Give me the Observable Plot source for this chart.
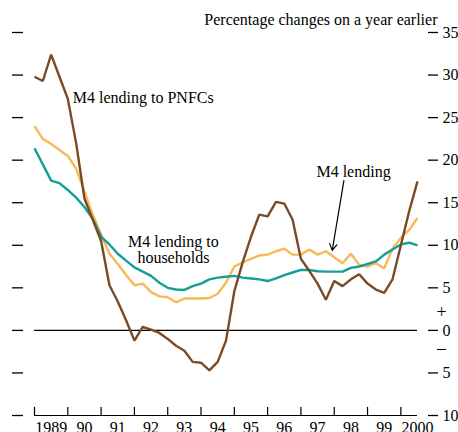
<!DOCTYPE html>
<html><head><meta charset="utf-8">
<script src="https://cdn.jsdelivr.net/npm/d3@7"></script>
<script src="https://cdn.jsdelivr.net/npm/@observablehq/plot@0.6"></script>
<style>html,body{margin:0;padding:0;background:#fff;}#chart{width:458px;height:432px;}</style>
</head><body><div id="chart"></div>
<script>
// Quarterly observations, 1989 Q1 onwards (percentage changes on a year earlier)
const startYear = 1989;
const pnfc = [29.8, 29.3, 32.4, 29.8, 27.2, 22.0, 15.5, 13.0, 10.5, 5.3, 3.4, 1.2, -1.2, 0.4, 0.1, -0.3, -1.0, -1.8, -2.4, -3.7, -3.8, -4.7, -3.7, -1.2, 4.6, 8.0, 11.0, 13.6, 13.4, 15.1, 14.9, 13.0, 8.4, 7.0, 5.5, 3.6, 5.8, 5.2, 6.0, 6.6, 5.5, 4.8, 4.4, 6.0, 10.0, 14.0, 17.5];
const total = [24.0, 22.5, 21.9, 21.2, 20.5, 19.0, 16.3, 13.6, 11.3, 9.0, 7.8, 6.5, 5.3, 5.5, 4.5, 4.0, 3.9, 3.3, 3.75, 3.75, 3.75, 3.8, 4.3, 5.6, 7.5, 8.0, 8.4, 8.8, 8.9, 9.3, 9.6, 8.9, 8.9, 9.5, 8.9, 9.3, 8.6, 7.9, 9.0, 7.7, 7.5, 7.9, 7.3, 9.6, 10.9, 11.8, 13.2];
const households = [21.4, 19.5, 17.6, 17.3, 16.5, 15.6, 14.5, 13.1, 11.0, 10.1, 9.0, 8.2, 7.4, 6.9, 6.4, 5.6, 5.0, 4.8, 4.75, 5.2, 5.5, 6.0, 6.2, 6.3, 6.4, 6.2, 6.1, 6.0, 5.8, 6.1, 6.5, 6.8, 7.1, 7.1, 6.95, 6.9, 6.9, 6.9, 7.35, 7.5, 7.8, 8.1, 8.9, 9.5, 10.1, 10.3, 10.0];

const yTicks = [-10, -5, 0, 5, 10, 15, 20, 25, 30, 35];
const yTickLabels = ["10", "5", "0", "5", "10", "15", "20", "25", "30", "35"];
const yearTicks = [1989, 1990, 1991, 1992, 1993, 1994, 1995, 1996, 1997, 1998, 1999, 2000];
const yearLabels = ["1989", "90", "91", "92", "93", "94", "95", "96", "97", "98", "99", "2000"];

const seriesNames = ["M4 lending", "M4 lending to households", "M4 lending to PNFCs"];
const seriesColors = ["#f8b956", "#11a096", "#7a4a26"];
const seriesValues = [total, households, pnfc];

const rows = seriesNames.flatMap((name, s) =>
  seriesValues[s].map((v, i) => ({series: name, date: startYear + i / 4, value: v})));

const startLabels = [{x: 1990.15, y: 27.3, text: "M4 lending to PNFCs"}];
const middleLabels = [
  {x: 1993.17, y: 9.5, text: "M4 lending to\nhouseholds"},
  {x: 1998.58, y: 18.6, text: "M4 lending"}
];

const font = "'Liberation Serif', 'Times New Roman', serif";
const fs = 16;

const chart = Plot.plot({
  width: 458,
  height: 432,
  marginLeft: 34,
  marginRight: 41,
  marginTop: 32,
  marginBottom: 17,
  style: {fontFamily: font, fontSize: fs + "px", color: "#000", background: "#fff"},
  x: {domain: [1989, 2000.5], axis: null},
  y: {domain: [-10, 35], axis: null},
  color: {domain: seriesNames, range: seriesColors},
  marks: [
    Plot.axisY(yTicks, {anchor: "right", tickSize: 10, dx: 10, tickPadding: 5, strokeWidth: 1.3,
      tickFormat: d => yTickLabels[yTicks.indexOf(d)], fontSize: fs}),
    Plot.axisY(yTicks, {anchor: "left", tickSize: 11, dx: -11, strokeWidth: 1.3, tickFormat: () => ""}),
    Plot.ruleY([-10], {stroke: "#000", strokeWidth: 1.2}),
    Plot.ruleX(yearTicks, {x: d => d, y1: -10, y2: -9.05, stroke: "#000", strokeWidth: 1.2}),
    Plot.text(yearLabels, {x: (d, i) => yearTicks[i] + 0.5, y: -10, text: d => d, lineAnchor: "top", dy: 6, fontSize: fs}),
    Plot.ruleY([0], {stroke: "#000", strokeWidth: 1.2}),
    Plot.text(["+"], {frameAnchor: "right", y: 2.1, dx: 24, text: d => d, textAnchor: "middle", fontSize: 18}),
    Plot.text(["\u2013"], {frameAnchor: "right", y: -2.1, dx: 24, text: d => d, textAnchor: "middle", fontSize: 18}),
    Plot.line(rows, {x: "date", y: "value", z: "series", stroke: "series", strokeWidth: 2.4, strokeLinejoin: "miter", strokeLinecap: "butt"}),
    Plot.text(["Percentage changes on a year earlier"], {frameAnchor: "top-right", dx: 20, dy: -8, lineAnchor: "bottom", textAnchor: "end", text: d => d, fontSize: fs}),
    Plot.text(startLabels, {x: "x", y: "y", text: "text", textAnchor: "start", fontSize: fs}),
    Plot.text(middleLabels, {x: "x", y: "y", text: "text", textAnchor: "middle", lineHeight: 1.0, fontSize: fs}),
    Plot.arrow([{x1: 1998.29, y1: 17.6, x2: 1997.94, y2: 9.4}], {x1: "x1", y1: "y1", x2: "x2", y2: "y2", stroke: "#000", strokeWidth: 1.2, headLength: 9})
  ]
});
document.getElementById("chart").appendChild(chart);
</script>
</body></html>
